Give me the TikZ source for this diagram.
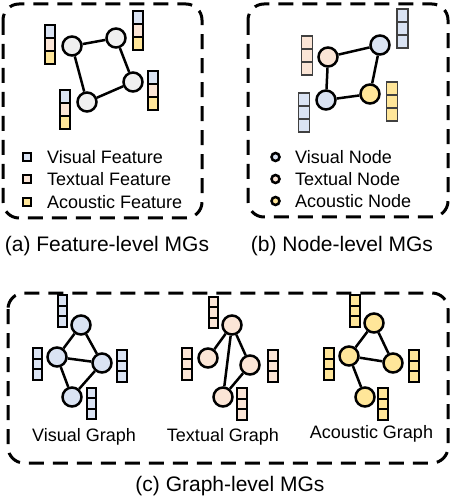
\documentclass[tikz,border=0pt]{standalone}
\usepackage{fontspec}
\setmainfont{Liberation Sans}
\usepackage{tikz}
\definecolor{MGblue}{HTML}{DAE3F3}
\definecolor{MGpeach}{HTML}{FBE5D6}
\definecolor{MGyellow}{HTML}{FFE699}
\definecolor{MGgray}{HTML}{F0F0F0}
\newcommand{\featstack}[6]{%
  \node[#1,fill=#5] (#2-m) at #3 {};
  \node[#1,fill=#4,above=0pt of #2-m] (#2-t) {};
  \node[#1,fill=#6,below=0pt of #2-m] (#2-b) {};
}
\usetikzlibrary{positioning}
\tikzset{
  panel/.style={draw,line width=3pt,dash pattern=on 15pt off 9pt,rounded corners=16pt},
  mgnode/.style={circle,draw,line width=2.5pt,minimum size=19pt,inner sep=0pt},
  link/.style={line width=2.5pt},
  cella/.style={rectangle,draw,line width=2pt,outer sep=0pt,inner sep=0pt,minimum width=10pt,minimum height=13pt},
  cellb/.style={cella,draw=black!75,line width=1.6pt,minimum width=11pt},
  cellc/.style={cella,minimum width=9.5pt,minimum height=10.5pt},
  legbox/.style={rectangle,draw,line width=2pt,minimum size=7.5pt,inner sep=0pt},
  legdot/.style={circle,draw,line width=2.5pt,minimum size=8pt,inner sep=0pt},
  legtext/.style={anchor=base west,inner sep=0pt,font=\fontsize{18}{20}\selectfont},
  gtitle/.style={anchor=base,inner sep=0pt,font=\fontsize{18}{20}\selectfont},
  subcap/.style={anchor=base,inner sep=0pt,font=\fontsize{21}{24}\selectfont},
}
\begin{document}
\begin{tikzpicture}[x=1pt,y=-1pt]
    \useasboundingbox (0,0) rectangle (452,502);
    % (a) feature-level
    \draw[panel] (3,4) rectangle (202,218);
    \featstack{cella}{sa1}{(50,45)}{MGblue}{MGpeach}{MGyellow}
    \featstack{cella}{sa2}{(137.5,31)}{MGblue}{MGpeach}{MGyellow}
    \featstack{cella}{sa3}{(152.5,91)}{MGblue}{MGpeach}{MGyellow}
    \featstack{cella}{sa4}{(65,109.5)}{MGblue}{MGpeach}{MGyellow}
    \node[mgnode,fill=MGgray] (na1) at (72,46) {};
    \node[mgnode,fill=MGgray] (na2) at (116,38) {};
    \node[mgnode,fill=MGgray] (na3) at (133,82) {};
    \node[mgnode,fill=MGgray] (na4) at (87,102) {};
    \draw[link] (na1) -- (na2) -- (na3) -- (na4) -- (na1);
    \node[legbox,fill=MGblue] (lfv) at (27,157) {};
    \node[legbox,fill=MGpeach] (lft) at (27,179) {};
    \node[legbox,fill=MGyellow] (lfa) at (27,202) {};
    \node[legtext] (lfvt) at (47,163.5) {Visual Feature};
    \node[legtext] (lftt) at (47,185.5) {Textual Feature};
    \node[legtext] (lfat) at (47,208.5) {Acoustic Feature};
    \node[subcap] (capa) at (107,251.5) {(a) Feature-level MGs};
    % (b) node-level
    \draw[panel] (248,4) rectangle (448,217);
    \featstack{cellb}{sb1}{(307,55.5)}{MGpeach}{MGpeach}{MGpeach}
    \featstack{cellb}{sb2}{(402.5,28.5)}{MGblue}{MGblue}{MGblue}
    \featstack{cellb}{sb3}{(392,101.5)}{MGyellow}{MGyellow}{MGyellow}
    \featstack{cellb}{sb4}{(304,112.5)}{MGblue}{MGblue}{MGblue}
    \node[mgnode,fill=MGpeach] (nb1) at (328,57) {};
    \node[mgnode,fill=MGblue] (nb2) at (380,45) {};
    \node[mgnode,fill=MGyellow] (nb3) at (370,94) {};
    \node[mgnode,fill=MGblue] (nb4) at (326,100) {};
    \draw[link] (nb1) -- (nb2) -- (nb3) -- (nb4) -- (nb1);
    \node[legdot,fill=MGblue] (lnv) at (275.5,157) {};
    \node[legdot,fill=MGpeach] (lnt) at (275.5,179) {};
    \node[legdot,fill=MGyellow] (lna) at (275.5,201) {};
    \node[legtext] (lnvt) at (295,163.5) {Visual Node};
    \node[legtext] (lntt) at (295,185.5) {Textual Node};
    \node[legtext] (lnat) at (295,207.5) {Acoustic Node};
    \node[subcap] (capb) at (342,251.5) {(b) Node-level MGs};
    % (c) graph-level
    \draw[panel] (8,293) rectangle (448,463);
    \featstack{cellc}{sv1}{(62.5,311)}{MGblue}{MGblue}{MGblue}
    \featstack{cellc}{sv2}{(37.5,364)}{MGblue}{MGblue}{MGblue}
    \featstack{cellc}{sv3}{(122,366)}{MGblue}{MGblue}{MGblue}
    \featstack{cellc}{sv4}{(91.5,403.5)}{MGblue}{MGblue}{MGblue}
    \node[mgnode,fill=MGblue] (vA) at (81,325) {};
    \node[mgnode,fill=MGblue] (vB) at (57,357) {};
    \node[mgnode,fill=MGblue] (vC) at (102,363) {};
    \node[mgnode,fill=MGblue] (vD) at (72,397) {};
    \draw[link] (vA) -- (vB) -- (vC) -- (vA) (vB) -- (vD) -- (vC);
    \node[gtitle] (gv) at (84,441.5) {Visual Graph};
    \featstack{cellc}{st1}{(213.5,312.5)}{MGpeach}{MGpeach}{MGpeach}
    \featstack{cellc}{st2}{(187,364)}{MGpeach}{MGpeach}{MGpeach}
    \featstack{cellc}{st3}{(273,366)}{MGpeach}{MGpeach}{MGpeach}
    \featstack{cellc}{st4}{(242,404)}{MGpeach}{MGpeach}{MGpeach}
    \node[mgnode,fill=MGpeach] (tA) at (232,325) {};
    \node[mgnode,fill=MGpeach] (tB) at (208,358) {};
    \node[mgnode,fill=MGpeach] (tC) at (250,365) {};
    \node[mgnode,fill=MGpeach] (tD) at (223,397) {};
    \draw[link] (tB) -- (tA) -- (tC) -- (tD) -- (tA);
    \node[gtitle] (gt) at (223,441.5) {Textual Graph};
    \featstack{cellc}{sc1}{(355,311)}{MGyellow}{MGyellow}{MGyellow}
    \featstack{cellc}{sc2}{(329,364)}{MGyellow}{MGyellow}{MGyellow}
    \featstack{cellc}{sc3}{(414,366)}{MGyellow}{MGyellow}{MGyellow}
    \featstack{cellc}{sc4}{(383,404)}{MGyellow}{MGyellow}{MGyellow}
    \node[mgnode,fill=MGyellow] (aA) at (374,323) {};
    \node[mgnode,fill=MGyellow] (aB) at (349,356) {};
    \node[mgnode,fill=MGyellow] (aC) at (393,363) {};
    \node[mgnode,fill=MGyellow] (aD) at (365,397) {};
    \draw[link] (aA) -- (aB) -- (aC) -- (aA) (aB) -- (aD);
    \node[gtitle] (ga) at (371.5,438.5) {Acoustic Graph};
    \node[subcap] (capc) at (230,491.5) {(c) Graph-level MGs};
\end{tikzpicture}
\end{document}
